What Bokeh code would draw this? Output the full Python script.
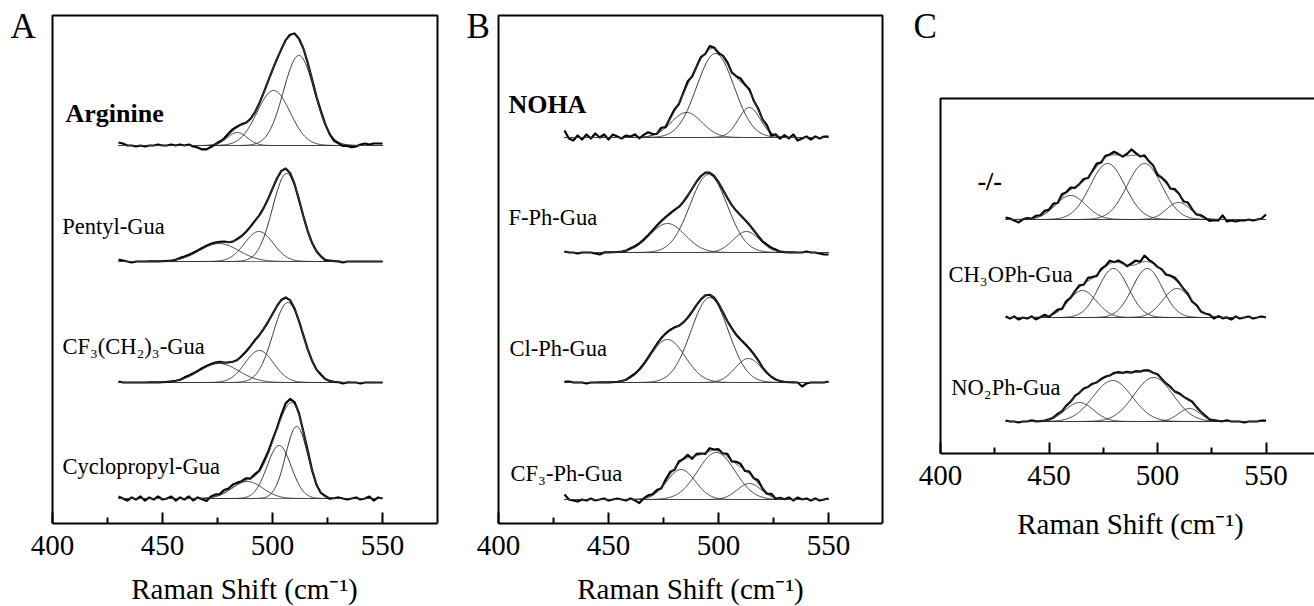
import numpy as np
from bokeh.plotting import figure
from bokeh.layouts import row, column
from bokeh.models import FixedTicker
from bokeh.core.properties import value
from bokeh.embed import file_html
from bokeh.resources import INLINE

FONT = "Liberation Serif"

# measured points (cm-1) and a fine grid for the fitted Gaussian bands
shift = np.arange(430, 551, 2)
fine = np.linspace(430, 550, 481)

major_ticks = [400, 450, 500, 550]
minor_ticks = [425, 475, 525]
x_title = "Raman Shift (cm⁻¹)"

# ---------------- Panel A ----------------
a_labels = ["Arginine", "Pentyl-Gua", "CF₃(CH₂)₃-Gua", "Cyclopropyl-Gua"]
a_offsets = [378, 262, 141, 25]
a_centers = [[484.0, 500.5, 512.0], [475.7, 493.8, 506.5], [475.7, 494.0, 507.0], [488.6, 503.0, 511.0]]
a_heights = [[13, 55, 90], [18, 30, 88], [19, 32, 80], [17, 53, 72]]
a_sigmas = [[4.5, 7.5, 7.0], [9.0, 6.5, 6.5], [9.0, 6.5, 6.8], [7.0, 5.5, 5.0]]
a_resid = [
    [3, 2, 0, 0, -1, 0, -1, 0, 0, 1,
     0, 0, 1, 0, 1, 0, 1, -1, -2, -4,
     -4, -2, 0, 1, 1, 2, 2, 1, 1, 0,
     0, 0, 0, 0, 0, 0, 0, 0, 1, 1,
     1, 0, 0, 0, 0, 0, 1, 0, -1, -2,
     -1, -2, -1, -2, -1, 1, 2, 1, 2, 2,
     2],
    [2, 1, 0, -1, 0, 0, 0, 0, 0, 0,
     0, 0, 0, 0, 1, 1, 1, 1, 1, 1,
     1, 1, 1, 1, 1, 0, 0, 1, 1, 1,
     1, 1, 0, 0, 0, 0, 0, 0, 0, 0,
     0, 0, 0, 0, 0, 0, 0, -1, 0, 0,
     0, -1, 0, 0, 0, 0, 0, 0, 0, 0,
     0],
    [1, 0, 0, 0, 0, 0, 0, 0, 0, 0,
     0, 0, 0, 0, 0, 1, 1, 1, 1, 1,
     1, 1, 1, 1, 0, 0, 0, 0, 1, 1,
     1, 1, 0, 0, 0, 0, 0, 0, 0, 0,
     0, 0, 0, 0, 0, 0, 1, 0, 0, 0,
     0, -1, 0, 0, 0, -1, 0, 0, 0, 0,
     0],
    [2, 0, -2, 1, -1, 2, -2, 1, -1, 2,
     -1, 0, 2, -2, 1, -1, 2, -2, 1, -1,
     -3, 1, 2, 1, 3, 2, 3, 2, 1, 2,
     0, 2, 1, 3, 2, 2, 1, 3, 5, 4,
     2, 1, 0, 1, 0, -1, -1, 0, -1, 0,
     1, 0, -1, 0, 1, -1, 0, 2, -2, 1,
     0],
]
a_label_x = [405.9, 404.4, 404.5, 404.5]
a_label_y = [401, 289, 169, 49]          # text baselines
a_bold = [True, False, False, False]

# ---------------- Panel B ----------------
b_labels = ["NOHA", "F-Ph-Gua", "Cl-Ph-Gua", "CF₃-Ph-Gua"]
b_offsets = [386, 271, 141, 24]
b_centers = [[485.5, 498.6, 514.0], [476.8, 495.5, 512.7], [476.8, 496.0, 513.6], [483.0, 499.0, 514.0]]
b_heights = [[25, 84, 30], [29, 78, 21], [43, 85, 24], [30, 47, 16]]
b_sigmas = [[7.0, 8.5, 5.0], [8.0, 8.5, 6.0], [8.0, 8.5, 6.0], [6.5, 8.5, 5.5]]
b_resid = [
    [7, -1, -3, 2, -2, 3, -1, 4, 0, 3,
     -2, 3, 1, -1, 2, 1, 3, -1, 2, 4,
     1, -1, 2, -2, 1, 2, -1, 1, 3, -1,
     0, 2, -1, 3, 1, -2, 1, 2, -1, 1,
     3, 1, 2, -1, 1, 0, 2, -3, 1, -2,
     2, -1, 3, -3, -1, 1, -2, 1, -1, 1,
     1],
    [1, 0, 0, -1, 0, 0, 0, -1, -2, 0,
     0, 0, 0, 0, 0, 1, 1, 1, 1, 1,
     1, 1, 1, 1, 1, 1, 0, 0, 0, 0,
     0, 0, 0, 0, 0, 0, 0, 0, 0, 0,
     0, 0, 0, 0, 0, 0, 1, 1, 1, 0,
     0, 0, 0, 0, 0, 1, 0, 0, -1, -2,
     -2],
    [1, 1, 0, 0, 0, -1, 0, 0, 0, 0,
     0, 0, 0, 0, 0, 1, 1, 1, 1, 1,
     1, 1, 1, 1, 1, 1, 0, 0, 0, 0,
     0, 0, 0, 0, 0, 0, 0, 0, 1, 1,
     1, 1, 1, 1, 1, 0, 0, 0, 0, 0,
     0, 0, 0, 0, -4, -1, 0, 0, 0, 0,
     1],
    [5, 0, -1, -2, 0, -1, 1, -1, 0, 1,
     -1, 0, 1, 0, -1, 1, -1, -4, 0, 2,
     1, 2, -1, 2, 3, -1, 2, 1, 3, -2,
     2, 1, -1, 3, 1, 2, 0, 3, -1, 2,
     3, -1, 2, 0, 3, 0, -1, 2, -1, 1,
     0, 2, -1, 2, 0, 1, -1, 1, -1, 0,
     1],
]
b_label_x = [404.5, 404.5, 405.0, 405.5]
b_label_y = [410, 298, 167, 42]
b_bold = [True, False, False, False]

# ---------------- Panel C ----------------
c_labels = ["-/-", "CH₃OPh-Gua", "NO₂Ph-Gua"]
c_offsets = [234, 136, 32]
c_centers = [[460.0, 477.0, 494.0, 509.7], [465.4, 479.7, 495.3, 509.0], [464.0, 479.3, 498.2, 514.7]]
c_heights = [[24, 56, 56, 17], [27, 49, 49, 29], [19, 41, 44, 13]]
c_sigmas = [[7.0, 8.0, 8.0, 5.5], [6.5, 6.9, 6.9, 6.5], [6.5, 9.0, 9.0, 5.0]]
c_resid = [
    [2, 1, -1, -3, 0, 1, 0, 2, 1, 3,
     1, 3, -1, 3, 1, 2, -1, 0, 2, -1,
     1, 3, -1, 2, 1, 3, 1, -1, 2, 6,
     2, -1, 2, 0, 1, -2, 1, 2, -1, 2,
     1, -2, 2, 0, -1, 1, 0, -2, -1, -1,
     4, -2, -1, -2, -1, -1, 0, -1, 0, 1,
     5],
    [1, -1, 1, -2, 0, -1, 1, -2, 0, 2,
     -1, 1, 2, -1, 2, 0, 1, 2, -1, 3,
     1, -1, 2, 1, 3, 0, 2, 1, -1, 2,
     4, 1, 6, 2, 1, 0, 1, -1, 1, 2,
     1, 0, 1, -1, 1, -1, 0, 1, -2, 1,
     -1, 0, -2, 1, -1, 0, 1, -1, 0, 1,
     0],
    [1, 0, 0, -1, 0, 0, 1, 0, 0, 0,
     0, 0, 1, 0, 1, 0, 1, 0, 1, 0,
     1, 0, 1, 1, 0, 1, 1, 0, 1, 0,
     1, 0, 1, 1, 0, 1, 0, 0, 1, 0,
     1, 0, 0, 1, 0, 0, 0, -1, 0, 0,
     0, 1, 0, 0, 0, -1, 0, 0, 0, 1,
     1],
]
c_label_x = [417.0, 403.7, 405.0]
c_label_y = [263, 171, 58]
c_bold = [True, False, False]

MID = 0.34  # distance from baseline to the middle of the em box, in em


def bands(x, cs, hs, ss):
    return [h * np.exp(-(x - c) ** 2 / (2.0 * s * s)) for c, h, s in zip(cs, hs, ss)]


def put_text(p, x, y_base, txt, size, bold=False, align="left"):
    p.text(x=[x], y=[y_base + MID * size], text=[txt], text_font=value(FONT),
           text_font_size=f"{size}px", text_font_style="bold" if bold else "normal",
           text_baseline="middle", text_align=align, text_color="black")


def panel(width, height, rb, tb, bb, xr, yr, box_right, box_top, open_right,
          letter, letter_x, letter_y,
          labels, offsets, centers, heights, sigmas, resid, lx, ly, bold):
    p = figure(width=width, height=height, x_range=xr, y_range=yr,
               output_backend="svg", toolbar_location=None,
               min_border_left=0, min_border_right=rb, min_border_top=tb, min_border_bottom=bb)
    p.frame_align = False
    p.xgrid.visible = False
    p.ygrid.visible = False
    p.yaxis.visible = False
    p.outline_line_color = None
    p.background_fill_color = "white"
    p.border_fill_color = "white"

    ax = p.xaxis[0]
    ax.ticker = FixedTicker(ticks=major_ticks, minor_ticks=minor_ticks)
    ax.bounds = (400, box_right)
    ax.axis_line_width = 2
    ax.axis_line_color = "black"
    ax.major_tick_in = 11
    ax.major_tick_out = 0
    ax.minor_tick_in = 6
    ax.minor_tick_out = 0
    ax.major_tick_line_width = 2
    ax.minor_tick_line_width = 2
    ax.major_tick_line_color = "black"
    ax.minor_tick_line_color = "black"
    ax.major_label_text_font = FONT
    ax.major_label_text_font_size = "29px"
    ax.major_label_text_color = "black"
    ax.major_label_standoff = 12

    # panel box (left, top and right edges; the bottom edge is the axis line)
    if open_right:
        p.line([400, 400, box_right], [0, box_top, box_top], line_color="black", line_width=2)
    else:
        p.line([400, 400, box_right, box_right], [0, box_top, box_top, 0],
               line_color="black", line_width=2)

    for off, cs, hs, ss, rs in zip(offsets, centers, heights, sigmas, resid):
        p.line([430, 550], [off, off], line_color="#777777", line_width=1)
        for comp in bands(fine, cs, hs, ss):
            p.line(fine, comp + off, line_color="#333333", line_width=1)
        total_fine = np.sum(bands(fine, cs, hs, ss), axis=0)
        measured = np.sum(bands(shift, cs, hs, ss), axis=0) + np.array(rs, dtype=float)
        p.line(shift, measured + off, line_color="black", line_width=2.2, line_join="round")
        p.line(fine, total_fine + off, line_color="#444444", line_width=1)

    for t, x, y, b in zip(labels, lx, ly, bold):
        put_text(p, x, y, t, 26 if b else 22.5, bold=b)

    put_text(p, letter_x, letter_y, letter, 35)
    return p


def title_strip(width, height, xr, center, y_base):
    t = figure(width=width, height=height, x_range=xr, y_range=(0, height),
               output_backend="svg", toolbar_location=None,
               min_border_left=0, min_border_right=0, min_border_top=0, min_border_bottom=0)
    t.frame_align = False
    t.axis.visible = False
    t.grid.visible = False
    t.outline_line_color = None
    put_text(t, center, y_base, x_title, 29, align="center")
    return t


# Panel A: canvas 0-460, box 52-437 (2.2 px per cm-1), box top 15, bottom 523
xa = (400 - 52 / 2.2, 400 + (439 - 52) / 2.2)
pa = panel(460, 567, 21, 13, 44, xa, (0, 510), 400 + 385 / 2.2, 508, False,
           "A", 400 - 42 / 2.2, 510 - 25,
           a_labels, a_offsets, a_centers, a_heights, a_sigmas, a_resid,
           a_label_x, a_label_y, a_bold)
ta = title_strip(460, 39, (xa[0], xa[0] + 460 / 2.2), 400 + 192 / 2.2, 8)

# Panel B: canvas 460-905, box 498-882
xb = (400 - 38 / 2.2, 400 + (424 - 38) / 2.2)
pb = panel(445, 567, 21, 13, 44, xb, (0, 510), 400 + 384 / 2.2, 508, False,
           "B", 400 - 32 / 2.2, 510 - 25,
           b_labels, b_offsets, b_centers, b_heights, b_sigmas, b_resid,
           b_label_x, b_label_y, b_bold)
tb = title_strip(445, 39, (xb[0], xb[0] + 445 / 2.2), 400 + 192 / 2.2, 8)

# Panel C: canvas 905-1314, box 940-(beyond window), box top 98, bottom 453
xc = (400 - 35 / 2.17, 400 + 374 / 2.17)
pc = panel(409, 497, 0, 0, 44, xc, (0, 453), xc[1], 355, True,
           "C", 400 - 27 / 2.17, 453 - 38,
           c_labels, c_offsets, c_centers, c_heights, c_sigmas, c_resid,
           c_label_x, c_label_y, c_bold)
tc = title_strip(409, 60, xc, 400 + 190 / 2.17, 24)

layout = row(column(pa, ta, spacing=0), column(pb, tb, spacing=0), column(pc, tc, spacing=0), spacing=0)
open("out.html", "w").write(file_html(layout, INLINE))
